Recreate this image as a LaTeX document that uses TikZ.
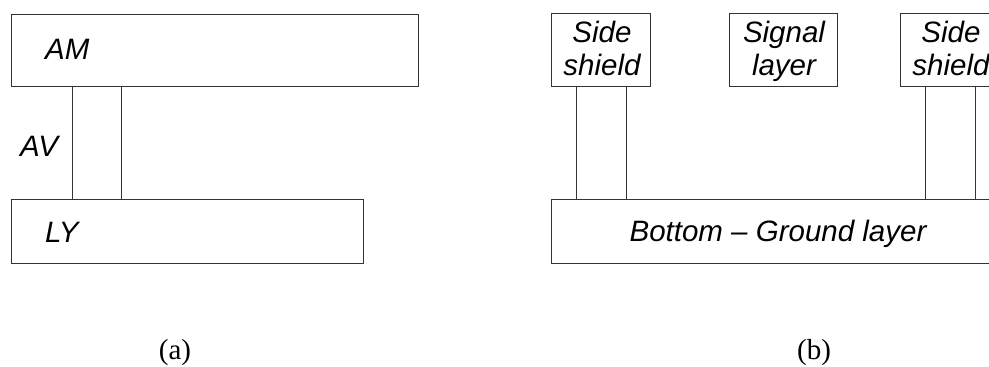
\documentclass[tikz,border=0pt]{standalone}
\usepackage{fontspec}
\setmainfont{Liberation Sans}
\newfontfamily\capfont{Liberation Serif}
\begin{document}
\begin{tikzpicture}[x=1pt,y=-1pt,
  box/.style={draw=black!80, line width=1pt, inner sep=0pt, anchor=north west},
  lbl/.style={inner sep=0pt, anchor=base, font=\fontsize{29.5}{33}\selectfont\itshape},
  captxt/.style={inner sep=0pt, anchor=base, font=\fontsize{29}{30}\capfont},
  via/.style={draw=black!80, line width=1pt}]
\clip (0,0) rectangle (989,367);
% (a)
\node[box, minimum width=407pt, minimum height=72pt] (am) at (11,14) {};
\node[box, minimum width=352pt, minimum height=64pt] (ly) at (11,199) {};
\node[box, minimum width=49pt, minimum height=113pt] (av) at (72,86) {};
\node[lbl, anchor=base west] (amt) at (45,59) {AM};
\node[lbl, anchor=base west] (avt) at (20,156) {AV};
\node[lbl, anchor=base west] (lyt) at (45,242) {LY};
% (b)
\node[box, minimum width=99pt, minimum height=73pt] (ssl) at (551,13) {};
\node[box, minimum width=108pt, minimum height=73pt] (sig) at (729,13) {};
\node[box, minimum width=99pt, minimum height=73pt] (ssr) at (900,13) {};
\node[box, minimum width=451pt, minimum height=64pt] (gnd) at (551,199) {};
\node[lbl] (ssla) at (602,42) {Side};
\node[lbl] (sslb) at (602,75) {shield};
\node[lbl] (siga) at (784,42) {Signal};
\node[lbl] (sigb) at (784,75) {layer};
\node[lbl] (ssra) at (951,42) {Side};
\node[lbl] (ssrb) at (951,75) {shield};
\node[lbl] (gndt) at (778,241) {Bottom -- Ground layer};
\draw[via] ([xshift=-25pt]ssl.south) -- ([xshift=-25pt]ssl.south |- gnd.north);
\draw[via] ([xshift=25pt]ssl.south) -- ([xshift=25pt]ssl.south |- gnd.north);
\draw[via] ([xshift=-25pt]ssr.south) -- ([xshift=-25pt]ssr.south |- gnd.north);
\draw[via] ([xshift=25pt]ssr.south) -- ([xshift=25pt]ssr.south |- gnd.north);
% captions
\node[captxt] (capa) at (175,359) {(a)};
\node[captxt] (capb) at (814,359) {(b)};
\end{tikzpicture}
\end{document}
